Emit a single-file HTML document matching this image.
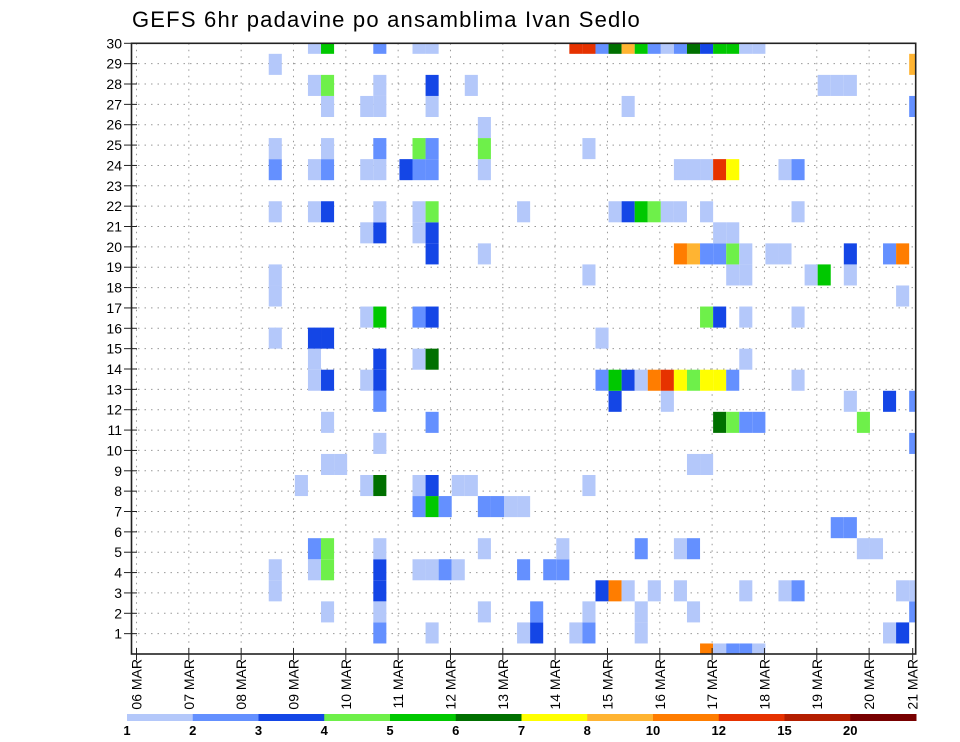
<!DOCTYPE html>
<html><head><meta charset="utf-8"><style>
html,body{margin:0;padding:0;background:#fff;}
svg{display:block;font-family:"Liberation Sans",sans-serif;}
</style></head><body>
<svg id="chart" width="960" height="742" viewBox="0 0 960 742" xmlns="http://www.w3.org/2000/svg">
<text x="132" y="27" font-size="22" letter-spacing="1.2" fill="#000">GEFS 6hr padavine po ansamblima Ivan Sedlo</text>
<g id="grid"></g>
<g id="cells"></g>
<g id="axes"></g>
<g id="colorbar"></g>
</svg>
<script>
// Data: each cell = [time index (6h steps), member row, precipitation mm]
const dayLabels = ["06 MAR","07 MAR","08 MAR","09 MAR","10 MAR","11 MAR","12 MAR","13 MAR","14 MAR","15 MAR","16 MAR","17 MAR","18 MAR","19 MAR","20 MAR","21 MAR"];
const memberLabels = [1,2,3,4,5,6,7,8,9,10,11,12,13,14,15,16,17,18,19,20,21,22,23,24,25,26,27,28,29,30];
const levelBounds = [1,2,3,4,5,6,7,8,10,12,15,20];
const levelColors = ["#b4c8fa","#6490ff","#1446e6","#6ef04a","#00c800","#007000","#ffff00","#ffb432","#ff7d00","#e63200","#b41e00","#780000"];
const codeVals = {a:1.5,b:2.5,c:3.5,d:4.5,e:5.5,f:6.5,g:7.5,h:9,i:11,k:13.5};
const rowData = [
"44i 45a 46b 47b 48a",
"19b 23a 30a 31c 34a 35b 39a 58a 59c",
"15a 19a 27a 31b 35a 39a 43a 60b",
"11a 19c 36c 37i 38a 40a 42a 47a 50a 51b 59a 60a",
"11a 14a 15d 19c 22a 23a 24b 25a 30b 32b 33b",
"14b 15d 19a 27a 33a 39b 42a 43b 56a 57a",
"54b 55b",
"22b 23e 24b 27b 28b 29a 30a",
"13a 18a 19f 22a 23c 25a 26a 35a",
"15a 16a 43a 44a",
"19a 60b",
"15a 23b 45f 46d 47b 48b 56d",
"19b 37c 41a 55a 58c 60b",
"14a 15c 18a 19c 36b 37e 38c 39a 40i 41k 42g 43d 44g 45g 46b 51a",
"14a 19c 22a 23f 47a",
"11a 14c 15c 36a",
"18a 19e 22b 23c 44d 45c 47a 51a",
"11a 59a",
"11a 35a 46a 47a 52a 53e 55a",
"23c 27a 42i 43h 44b 45b 46d 47a 49a 50a 55c 58b 59i",
"18a 19c 22a 23c 45a 46a",
"11a 14a 15c 19a 22a 23d 30a 37a 38c 39e 40d 41a 42a 44a 51a",
"",
"11b 14a 15b 18a 19a 21c 22b 23b 27a 42a 43a 44a 45k 46g 50a 51b",
"11a 15a 19b 22d 23b 27d 35a",
"27a",
"15a 18a 19a 23a 38a 60b",
"14a 15d 19a 23c 26a 53a 54a 55a",
"11a 60h",
"14a 15e 19b 22a 23a 34k 35k 36b 37f 38h 39e 40b 41a 42b 43f 44c 45e 46e 47a 48a"
];
const cells = [];
rowData.forEach((s,m)=>{ if(!s) return; s.split(" ").forEach(t=>{ cells.push([parseInt(t), m, codeVals[t.slice(-1)]]); }); });

const NS="http://www.w3.org/2000/svg";
const L=131.5, R=915.7, T=43.3, B=654;
const xCell = j => L + j*(R-L)/60;
const yCell = m => B - m*(B-T)/29;
const xDay = d => 136.5 + d*52.33;
const yLab = r => T + (30-r)*(B-T)/30;
function colorFor(v){ let c=null; for(let i=0;i<levelBounds.length;i++){ if(v>=levelBounds[i]) c=levelColors[i]; } return c; }
function mk(tag, attrs, parent){ const e=document.createElementNS(NS,tag); for(const k in attrs) e.setAttribute(k,attrs[k]); parent.appendChild(e); return e; }

const grid=document.getElementById('grid');
memberLabels.forEach(r=>{ if(r<30){
  const ln=mk('line',{x1:L,x2:R,y1:yLab(r),y2:yLab(r),stroke:'#999','stroke-width':1,'stroke-dasharray':'1.5,5'},grid);
  
  
}});
dayLabels.forEach((d,i)=>{ const x=xDay(i); if(x>L+2 && x<R-2){
  const ln=mk('line',{x1:x,x2:x,y1:T,y2:B,stroke:'#999','stroke-width':1,'stroke-dasharray':'1.5,5'},grid);
  
  
}});

const cg=document.getElementById('cells');
const cw=(R-L)/60, ch=(B-T)/29;
cells.forEach(c=>{
  const cx=xCell(c[0]), cy=yCell(c[1]);
  let x0=Math.max(L,cx-cw/2), x1=Math.min(R,cx+cw/2), y0=Math.max(T,cy-ch/2), y1=Math.min(B,cy+ch/2);
  const r=mk('rect',{x:x0,y:y0,width:x1-x0,height:y1-y0,fill:colorFor(c[2])},cg);
  
  
});

const ax=document.getElementById('axes');
const fr=mk('rect',{x:L,y:T,width:R-L,height:B-T,fill:'none',stroke:'#222','stroke-width':1.6},ax);


memberLabels.forEach(r=>{
  const y=yLab(r);
  mk('line',{x1:124,x2:137,y1:y,y2:y,stroke:'#222','stroke-width':1},ax);
  const t=mk('text',{x:122,y:y+5,'text-anchor':'end','font-size':14,fill:'#000'},ax);
  t.textContent=r;
  
  
});
dayLabels.forEach((d,i)=>{
  let x=xDay(i); if(x>R) x=R-3;
  mk('line',{x1:x,x2:x,y1:B-6,y2:B+6,stroke:'#222','stroke-width':1},ax);
  const t=mk('text',{x:0,y:0,'text-anchor':'end','font-size':14,fill:'#000',transform:`translate(${x+5},659) rotate(-90)`},ax);
  t.textContent=d;
  
  
});

const cb=document.getElementById('colorbar');
const segW=(916-127)/12;
levelColors.forEach((c,i)=>{
  const r=mk('rect',{x:127+i*segW,y:714,width:segW+0.5,height:7,fill:c},cb);
  
  
});
levelBounds.forEach((b,i)=>{
  const t=mk('text',{x:127+i*segW,y:735,'text-anchor':'middle','font-size':13,'font-weight':'bold',fill:'#000'},cb);
  t.textContent=b;
  
  
});
</script>
</body></html>
